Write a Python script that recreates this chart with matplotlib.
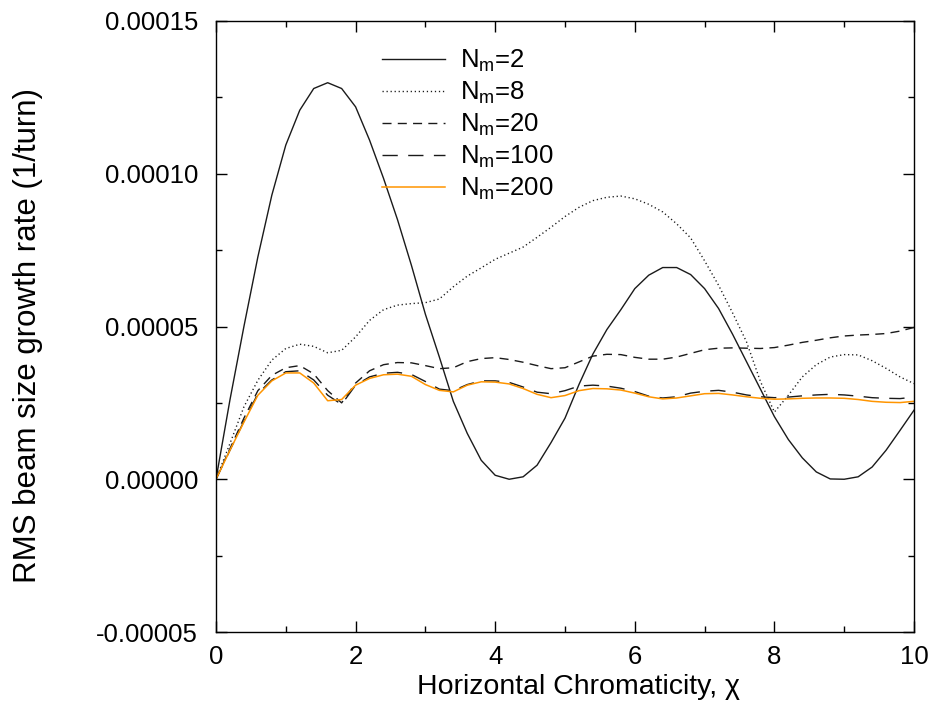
import numpy as np
import matplotlib
matplotlib.use("Agg")
import matplotlib.pyplot as plt
from matplotlib.ticker import MultipleLocator, FuncFormatter

plt.rcParams['font.family'] = ['Liberation Sans', 'DejaVu Sans']
plt.rcParams['mathtext.fontset'] = 'custom'
plt.rcParams['mathtext.rm'] = 'Liberation Sans'
plt.rcParams['mathtext.it'] = 'Liberation Sans:italic'

# chromaticity grid (0.2 step)
chi = [round(0.2 * i, 1) for i in range(51)]

# growth rates in units of 1e-5 per turn
nm2 = [0.0, 2.6, 5.0, 7.28, 9.30, 10.94, 12.08, 12.79, 12.98, 12.79, 12.19,
       11.10, 9.85, 8.5, 7.0, 5.4, 4.0, 2.55, 1.5, 0.62, 0.13,
       0.0, 0.08, 0.46, 1.2, 2.0, 3.1, 4.1, 4.9, 5.55, 6.24,
       6.68, 6.93, 6.93, 6.70, 6.24, 5.59, 4.75, 3.85, 2.95, 2.05,
       1.30, 0.70, 0.24, 0.01, 0.0, 0.08, 0.40, 0.95, 1.6, 2.26]
nm8 = [0.0, 1.17, 2.37, 3.24, 3.9, 4.28, 4.42, 4.35, 4.14, 4.22, 4.66,
       5.2, 5.55, 5.7, 5.75, 5.78, 5.9, 6.3, 6.65, 6.92, 7.2,
       7.4, 7.6, 7.92, 8.25, 8.6, 8.9, 9.12, 9.23, 9.27, 9.18,
       9.0, 8.75, 8.36, 7.9, 7.15, 6.35, 5.45, 4.5, 3.2, 2.2,
       2.75, 3.35, 3.75, 4.0, 4.08, 4.07, 3.88, 3.63, 3.35, 3.13]
nm20 = [0.0, 1.0, 2.0, 2.9, 3.4, 3.65, 3.72, 3.45, 2.9, 2.5, 3.15,
        3.55, 3.75, 3.82, 3.81, 3.72, 3.62, 3.65, 3.85, 3.95, 3.98,
        3.92, 3.83, 3.72, 3.62, 3.65, 3.84, 4.03, 4.09, 4.08, 3.99,
        3.93, 3.93, 4.0, 4.12, 4.24, 4.29, 4.3, 4.29, 4.28, 4.31,
        4.39, 4.48, 4.55, 4.63, 4.69, 4.72, 4.74, 4.77, 4.85, 4.97]
nm100 = [0.0, 0.95, 1.9, 2.8, 3.25, 3.52, 3.55, 3.25, 2.75, 2.45, 3.08,
         3.35, 3.47, 3.5, 3.43, 3.2, 2.95, 2.9, 3.1, 3.22, 3.22,
         3.17, 3.02, 2.85, 2.8, 2.9, 3.05, 3.08, 3.05, 2.98, 2.87,
         2.72, 2.66, 2.7, 2.82, 2.88, 2.91, 2.85, 2.76, 2.7, 2.67,
         2.69, 2.73, 2.76, 2.78, 2.76, 2.72, 2.67, 2.65, 2.64, 2.69]
nm200 = [0.0, 0.95, 1.87, 2.75, 3.22, 3.48, 3.48, 3.15, 2.57, 2.61, 3.08,
         3.3, 3.42, 3.44, 3.37, 3.1, 2.91, 2.86, 3.08, 3.19, 3.18,
         3.12, 2.97, 2.78, 2.67, 2.74, 2.9, 2.97, 2.96, 2.92, 2.82,
         2.7, 2.63, 2.66, 2.73, 2.8, 2.81, 2.76, 2.7, 2.65, 2.62,
         2.63, 2.65, 2.66, 2.66, 2.65, 2.61, 2.55, 2.52, 2.51, 2.55]

labels = [r'N$_{\rm m}$=2', r'N$_{\rm m}$=8', r'N$_{\rm m}$=20',
          r'N$_{\rm m}$=100', r'N$_{\rm m}$=200']

scale = 1e-5
fig = plt.figure(figsize=(9.3, 7.04), dpi=100)
ax = fig.add_axes([216/930, 72/704, 698/930, 611/704])

x = np.array(chi)
ax.plot(x, np.array(nm2)*scale, color='#1a1a1a', lw=1.0, ls='-', label=labels[0])
ax.plot(x, np.array(nm8)*scale, color='#1a1a1a', lw=1.0, ls=(0, (0.9, 2.0)), label=labels[1])
ax.plot(x, np.array(nm20)*scale, color='#1a1a1a', lw=1.0, ls=(0, (6.5, 4.5)), label=labels[2])
ax.plot(x, np.array(nm100)*scale, color='#1a1a1a', lw=1.0, ls=(0, (11, 7.5)), label=labels[3])
ax.plot(x, np.array(nm200)*scale, color='#ff9500', lw=1.1, ls='-', label=labels[4])

ax.set_xlim(0, 10)
ax.set_ylim(-0.00005, 0.00015)
ax.xaxis.set_major_locator(MultipleLocator(2))
ax.xaxis.set_minor_locator(MultipleLocator(1))
ax.yaxis.set_major_locator(MultipleLocator(0.00005))
ax.yaxis.set_minor_locator(MultipleLocator(0.000025))

def yfmt(v, pos):
    s = f"{v:.5f}"
    if s == "-0.00000":
        s = "0.00000"
    return s
ax.yaxis.set_major_formatter(FuncFormatter(yfmt))
ax.xaxis.set_major_formatter(FuncFormatter(lambda v, p: f"{v:g}"))

ax.tick_params(which='both', direction='in', top=True, right=True, labelsize=18.5, width=1.0)
ax.tick_params(which='major', length=8)
ax.tick_params(axis='y', which='major', pad=13)
ax.tick_params(axis='x', which='major', pad=9)
ax.tick_params(which='minor', length=4)
for sp in ax.spines.values():
    sp.set_linewidth(1.0)

ax.set_xlabel('Horizontal Chromaticity, χ', fontsize=20.5)
ax.xaxis.set_label_coords(0.52, -0.068)
ax.set_ylabel('RMS beam size growth rate (1/turn)', fontsize=22.5)
ax.yaxis.set_label_coords(-0.248, 0.485)

leg = ax.legend(loc='upper left', bbox_to_anchor=(0.238, 0.9565), frameon=False,
                fontsize=18.5, handlelength=2.45, handletextpad=0.6,
                labelspacing=0.23, borderaxespad=0, borderpad=0)

fig.savefig('out.png', dpi=100)
